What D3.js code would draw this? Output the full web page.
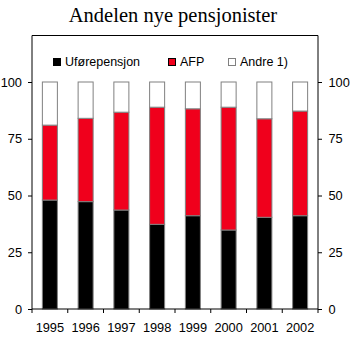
<!DOCTYPE html>
<html><head><meta charset="utf-8">
<script src="https://cdn.jsdelivr.net/npm/d3@7"></script>
<style>body{margin:0;background:#fff}svg{display:block}</style>
</head><body>
<script>
const years = ["1995","1996","1997","1998","1999","2000","2001","2002"];
const ufore = [48, 47.3, 43.6, 37.3, 41.1, 34.8, 40.4, 41.1];
const afp   = [33, 36.7, 43.1, 51.6, 47.1, 54.1, 43.4, 46.1];
const andre = [19, 16, 13.3, 11.1, 11.8, 11.1, 16.2, 12.8];
const seriesNames = ["Uførepensjon", "AFP", "Andre 1)"];
const yTicks = [0, 25, 50, 75, 100];
const colors = ["#000000", "#f0001c", "#ffffff"];

(function () {
const W = 350, H = 338;
const svg = d3.select("body").append("svg").attr("width", W).attr("height", H);
const pL = 32, pR = 318, pT = 82, pB = 309, frameTop = 35.5;

const x = d3.scaleBand().domain(years).range([pL, pR]).paddingInner(0.58).paddingOuter(0.29);
const y = d3.scaleLinear().domain([0, 100]).range([pB, pT]);

svg.append("text").attr("x", 173).attr("y", 22).attr("text-anchor", "middle")
  .attr("font-family", "Liberation Serif, Times New Roman, serif").attr("font-size", 20.5)
  .text("Andelen nye pensjonister");

const rows = years.map((yr, i) => ({year: yr, s0: ufore[i], s1: afp[i], s2: andre[i]}));
const stack = d3.stack().keys(["s0", "s1", "s2"])(rows);

svg.append("g").selectAll("g").data(stack).join("g")
  .attr("fill", (d, i) => colors[i])
  .selectAll("rect").data(d => d).join("rect")
  .attr("x", d => x(d.data.year))
  .attr("width", x.bandwidth())
  .attr("y", d => y(d[1]))
  .attr("height", d => y(d[0]) - y(d[1]))
  .attr("stroke", "#808080").attr("stroke-width", 1);

svg.append("line").attr("x1", pL).attr("x2", pR).attr("y1", frameTop).attr("y2", frameTop)
  .attr("stroke", "#000").attr("stroke-width", 1);

const fontF = "Liberation Sans, Arial, sans-serif";
const la = svg.append("g").attr("transform", `translate(${pL},0)`)
  .call(d3.axisLeft(y).tickValues(yTicks).tickSize(4).tickPadding(6).tickFormat(d3.format("d")));
la.select(".domain").remove();
la.append("line").attr("x1", 0).attr("x2", 0).attr("y1", frameTop).attr("y2", pB).attr("stroke", "#000");
const ra = svg.append("g").attr("transform", `translate(${pR},0)`)
  .call(d3.axisRight(y).tickValues(yTicks).tickSize(4).tickPadding(6.5).tickFormat(d3.format("d")));
ra.select(".domain").remove();
ra.append("line").attr("x1", 0).attr("x2", 0).attr("y1", frameTop).attr("y2", pB).attr("stroke", "#000");

const xa = svg.append("g").attr("transform", `translate(0,${pB})`)
  .call(d3.axisBottom(x).tickSize(0).tickPadding(13.5));
xa.select(".domain").remove();
xa.append("line").attr("x1", pL).attr("x2", pR).attr("stroke", "#000");
const bounds = d3.range(years.length + 1).map(i => pL + i * (pR - pL) / years.length);
xa.selectAll(".bt").data(bounds).join("line").attr("class", "bt")
  .attr("x1", d => d).attr("x2", d => d).attr("y1", 0).attr("y2", 4).attr("stroke", "#000");

svg.selectAll(".tick text").attr("font-family", fontF).attr("font-size", 12.8).attr("fill", "#000");
svg.selectAll(".tick line").attr("stroke", "#000");

const legX = [53, 168, 228];
const lg = svg.append("g");
seriesNames.forEach((n, i) => {
  lg.append("rect").attr("x", legX[i] + 0.5).attr("y", 58.5).attr("width", 7).attr("height", 7)
    .attr("fill", colors[i]).attr("stroke", i === 2 ? "#808080" : "#000");
  lg.append("text").attr("x", legX[i] + 12).attr("y", 66).attr("font-family", fontF)
    .attr("font-size", 12.5).text(n);
});
})();
</script>
</body></html>
